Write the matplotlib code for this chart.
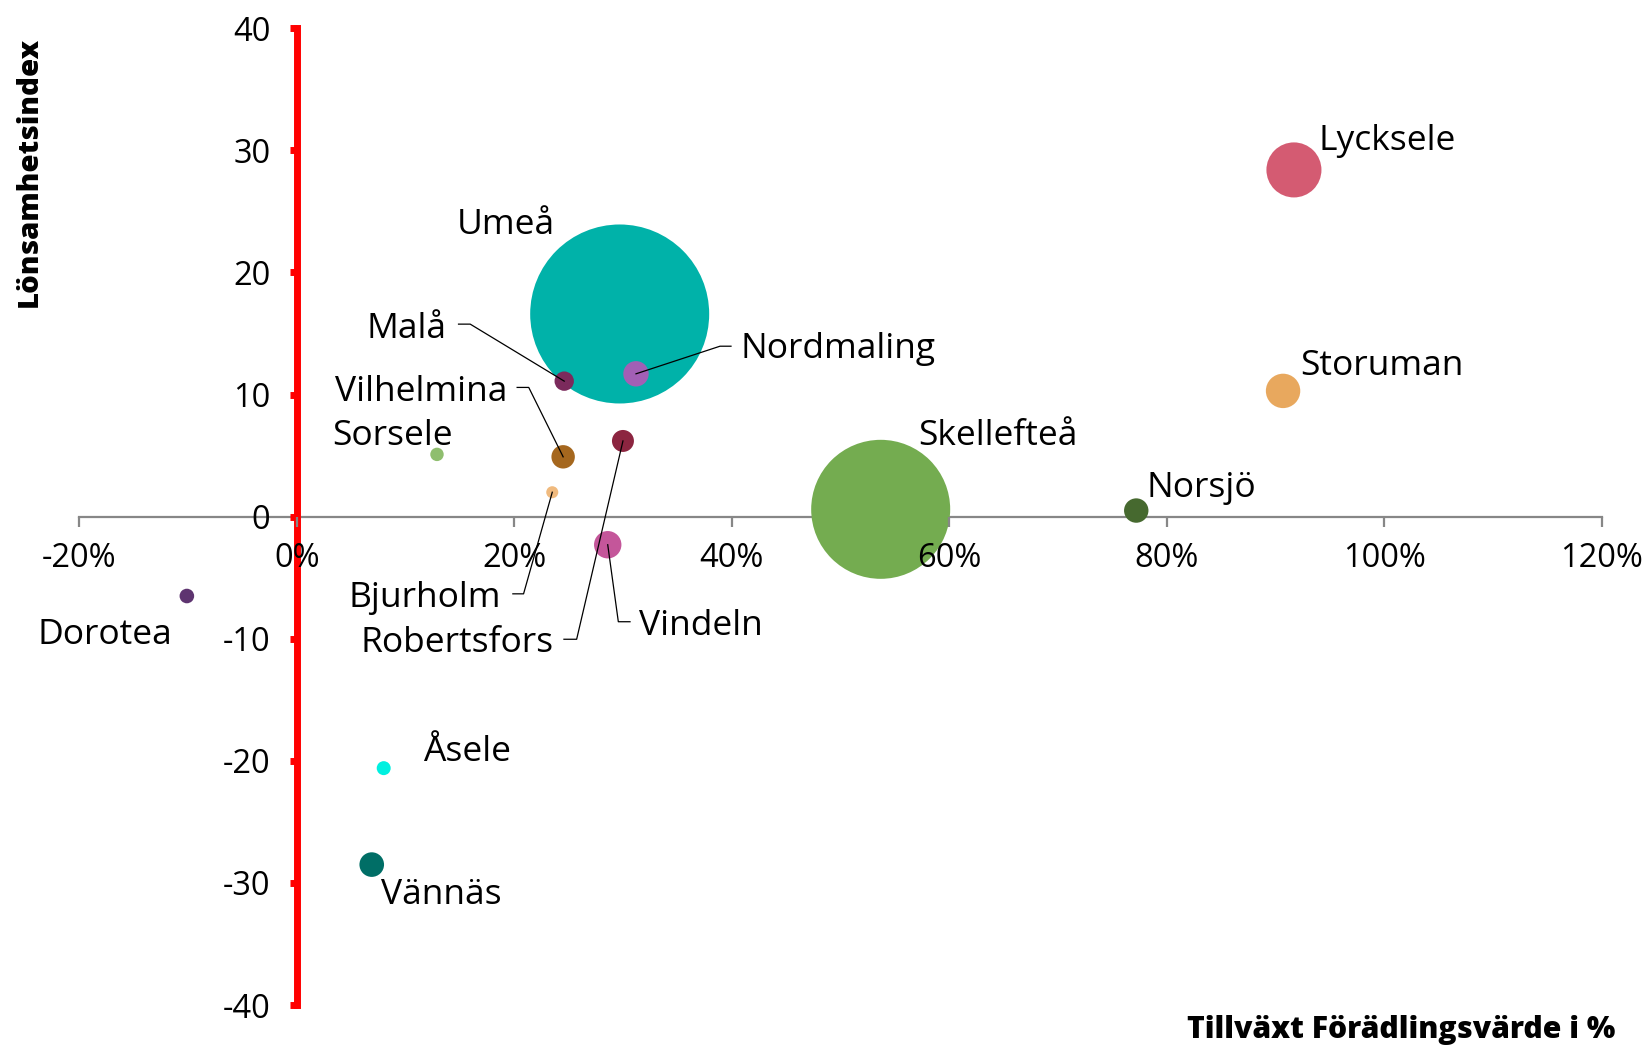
import matplotlib
matplotlib.use("Agg")
import matplotlib.pyplot as plt
from matplotlib.ticker import PercentFormatter
from matplotlib.transforms import Affine2D, ScaledTranslation
from matplotlib.lines import Line2D

plt.rcParams['font.family'] = ['Open Sans', 'DejaVu Sans']
plt.rcParams['axes.unicode_minus'] = False

# ---------------- data ----------------
names = ["Lycksele", "Storuman", "Norsjö", "Skellefteå", "Umeå", "Nordmaling",
         "Malå", "Robertsfors", "Vilhelmina", "Sorsele", "Bjurholm", "Vindeln",
         "Dorotea", "Åsele", "Vännäs"]
growth = [91.7, 90.7, 77.2, 53.7, 29.7, 31.2, 24.6, 30.0, 24.5, 12.9, 23.5, 28.6,
          -10.1, 8.0, 6.9]          # Tillväxt Förädlingsvärde i %
index = [28.4, 10.3, 0.5, 0.6, 16.6, 11.7, 11.1, 6.2, 4.9, 5.1, 2.0, -2.3,
         -6.5, -20.6, -28.5]        # Lönsamhetsindex
size = [12100, 4730, 2380, 77200, 128000, 2580, 1500, 1930, 2190, 720, 580, 3000,
        850, 780, 2420]             # bubble size
colors = ["#D45B72", "#E8A85E", "#46692F", "#74AC50", "#00B2A9", "#A25FB5",
          "#7B2A5C", "#8C2540", "#A5671E", "#8FBE6E", "#F0BA7E", "#C4569A",
          "#5E3470", "#00F0E0", "#006E66"]
xticks = [-20, 0, 20, 40, 60, 80, 100, 120]
yticks = [-40, -30, -20, -10, 0, 10, 20, 30, 40]

# label layout: offset in pixels from bubble centre (x right, y up), alignment, leader
label_layout = {
    "Lycksele": (24.8, 20, "left", None),
    "Storuman": (17.5, 16, "left", None),
    "Norsjö": (9.8, 13.7, "left", None),
    "Skellefteå": (38, 64.7, "left", None),
    "Umeå": (-65.2, 80, "right", None),
    "Nordmaling": (105, 15.8, "left", [(0, 0), (84, 27.6), (95, 27.6)]),
    "Malå": (-117.3, 43.4, "right", [(0, 0), (-94, 57), (-105.7, 57)]),
    "Robertsfors": (-69, -210.7, "right", [(0, 0), (-46.3, -198.3), (-59, -198.3)]),
    "Vilhelmina": (-56, 56, "right", [(0, 0), (-34.4, 69.4), (-46, 69.4)]),
    "Sorsele": (-105, 9.7, "left", None),
    "Bjurholm": (-51, -115, "right", [(0, 0), (-28.7, -101.6), (-39.4, -101.6)]),
    "Vindeln": (31.3, -90.3, "left", [(0, 0), (10.6, -77), (22.3, -77)]),
    "Dorotea": (-14.4, -47.6, "right", None),
    "Åsele": (39, 7, "left", None),
    "Vännäs": (9.4, -39.3, "left", None),
}

DPI = 100
fig = plt.figure(figsize=(16.5, 10.46), dpi=DPI)
W, H = 1650, 1046
ax = fig.add_axes([79.2 / W, 1 - 1005 / H, (1601.7 - 79.2) / W, (1005 - 28.3) / H])

ax.set_xlim(-20, 120)
ax.set_ylim(-40, 40)

# bubbles: area proportional to size, largest bubble diameter ~179 px
max_d_pt = 179 * 72 / DPI
smax = max(size)
order = sorted(range(len(names)), key=lambda i: -size[i])
ax.scatter([growth[i] for i in order], [index[i] for i in order],
           s=[(max_d_pt ** 2) * size[i] / smax for i in order],
           c=[colors[i] for i in order], edgecolors="none", zorder=3, clip_on=False)

# labels and leader lines
px = Affine2D().scale(1.0 / DPI) + fig.dpi_scale_trans
for i, n in enumerate(names):
    dx, dy, ha, leader = label_layout[n]
    ax.annotate(n, xy=(growth[i], index[i]), xytext=(dx, dy),
                textcoords="offset pixels", ha=ha, va="baseline",
                fontsize=25.5, color="black", zorder=6)
    if leader:
        tr = px + ScaledTranslation(growth[i], index[i], ax.transData)
        line = Line2D([p[0] for p in leader], [p[1] for p in leader],
                      color="black", lw=0.9, transform=tr, zorder=5)
        ax.add_line(line)

# spines
for s in ["top", "right"]:
    ax.spines[s].set_visible(False)
ax.spines["left"].set_position(("data", 0))
ax.spines["left"].set_color("#FF0000")
ax.spines["left"].set_linewidth(5)
ax.spines["left"].set_zorder(2)
ax.spines["bottom"].set_position(("data", 0))
ax.spines["bottom"].set_color("#878787")
ax.spines["bottom"].set_linewidth(1.6)
ax.spines["bottom"].set_zorder(1)

ax.set_xticks(xticks)
ax.set_yticks(yticks)
ax.xaxis.set_major_formatter(PercentFormatter(decimals=0))
ax.tick_params(axis="x", direction="out", length=7, width=1.6, color="#878787",
               labelsize=23.5, pad=11, labelcolor="black")
ax.tick_params(axis="y", direction="out", length=5, width=5, color="#FF0000",
               labelsize=23.5, pad=14, labelcolor="black")
ax.xaxis.set_zorder(4)
ax.yaxis.set_zorder(2)
ax.patch.set_visible(False)

# axis titles
fig.text(29.5 / W, 1 - 172 / H, "Lönsamhetsindex", rotation=90, ha="center",
         va="center", fontsize=21.2, fontweight="heavy")
fig.text(1615 / W, 1 - 1038 / H, "Tillväxt Förädlingsvärde i %", ha="right",
         va="baseline", fontsize=21.7, fontweight="heavy")

fig.savefig("out.png", dpi=DPI, facecolor="white")
